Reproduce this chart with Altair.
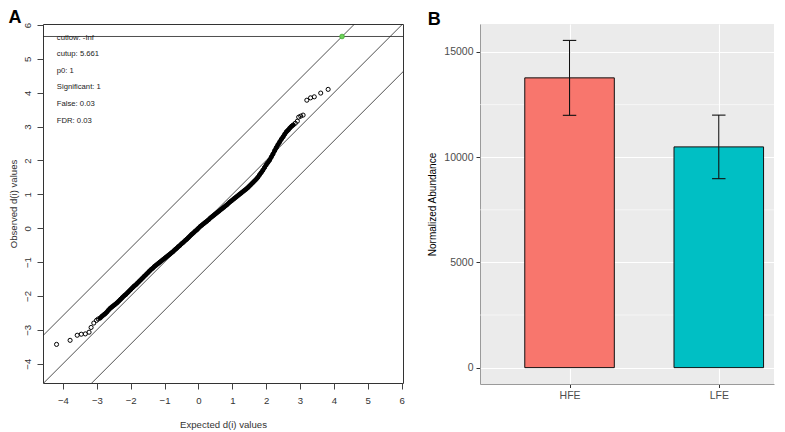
import altair as alt
import pandas as pd

# ---------------- Panel A data (SAM plot) ----------------
# dense central part of the d(i) cloud
band_expected = [
    -2.90, -2.85, -2.80, -2.75, -2.70, -2.65, -2.60, -2.55, -2.50, -2.45,
    -2.40, -2.35, -2.30, -2.25, -2.20, -2.15, -2.10, -2.05, -2.00, -1.95,
    -1.90, -1.85, -1.80, -1.75, -1.70, -1.65, -1.60, -1.55, -1.50, -1.45,
    -1.40, -1.35, -1.30, -1.25, -1.20, -1.15, -1.10, -1.05, -1.00, -0.95,
    -0.90, -0.85, -0.80, -0.75, -0.70, -0.65, -0.60, -0.55, -0.50, -0.45,
    -0.40, -0.35, -0.30, -0.25, -0.20, -0.15, -0.10, -0.05, 0.00, 0.05,
    0.10, 0.15, 0.20, 0.25, 0.30, 0.35, 0.40, 0.45, 0.50, 0.55,
    0.60, 0.65, 0.70, 0.75, 0.80, 0.85, 0.90, 0.95, 1.00, 1.05,
    1.10, 1.15, 1.20, 1.25, 1.30, 1.35, 1.40, 1.45, 1.50, 1.55,
    1.60, 1.65, 1.70, 1.75, 1.80, 1.85, 1.90, 1.95, 2.00, 2.05,
    2.10, 2.15, 2.20, 2.25, 2.30, 2.35, 2.40, 2.45, 2.50, 2.55,
    2.60, 2.65, 2.70, 2.75, 2.80,
]
band_observed = [
    -2.65, -2.60, -2.56, -2.52, -2.47, -2.41, -2.36, -2.32, -2.28, -2.24,
    -2.20, -2.15, -2.10, -2.05, -2.00, -1.96, -1.91, -1.86, -1.81, -1.76,
    -1.71, -1.67, -1.62, -1.57, -1.52, -1.47, -1.42, -1.37, -1.32, -1.27,
    -1.22, -1.18, -1.13, -1.09, -1.05, -1.01, -0.97, -0.93, -0.89, -0.85,
    -0.81, -0.77, -0.73, -0.69, -0.64, -0.60, -0.55, -0.51, -0.46, -0.42,
    -0.37, -0.33, -0.28, -0.23, -0.18, -0.14, -0.09, -0.05, 0.00, 0.05,
    0.09, 0.13, 0.17, 0.21, 0.25, 0.30, 0.34, 0.38, 0.42, 0.46,
    0.50, 0.54, 0.58, 0.62, 0.66, 0.70, 0.75, 0.79, 0.83, 0.87,
    0.91, 0.95, 0.99, 1.03, 1.07, 1.11, 1.15, 1.19, 1.24, 1.29,
    1.34, 1.39, 1.44, 1.50, 1.57, 1.64, 1.71, 1.79, 1.87, 1.94,
    2.01, 2.10, 2.19, 2.29, 2.38, 2.47, 2.55, 2.63, 2.70, 2.78,
    2.85, 2.90, 2.96, 3.01, 3.05,
]
# sparse tails of the cloud
tail_expected = [-4.19, -3.79, -3.58, -3.46, -3.34, -3.23, -3.17, -3.09,
                 -3.01, -2.96, 2.86, 2.92, 2.96, 3.02, 3.09, 3.20, 3.31,
                 3.42, 3.61, 3.83]
tail_observed = [-3.43, -3.31, -3.16, -3.13, -3.12, -3.07, -2.93, -2.80,
                 -2.72, -2.68, 3.10, 3.16, 3.28, 3.31, 3.34, 3.78, 3.85,
                 3.88, 3.99, 4.10]
sig_expected = [4.24]
sig_observed = [5.661]
delta_offsets = [0.0, 1.42, -1.42]
cutup = 5.661
stats_lines = ["cutlow: -Inf", "cutup: 5.661", "p0: 1",
               "Significant: 1", "False: 0.03", "FDR: 0.03"]
ticks_a = [-4, -3, -2, -1, 0, 1, 2, 3, 4, 5, 6]

# ---------------- Panel B data (bar chart) ----------------
groups = ["HFE", "LFE"]
abundance = [13770, 10490]
abundance_err = [1780, 1510]
bar_colors = ["#F8766D", "#00BFC4"]
ticks_b_major = [0, 5000, 10000, 15000]
ticks_b_minor = [2500, 7500, 12500]

FONT = "Liberation Sans"

# ---------------- Panel A ----------------
xs_a = alt.Scale(domain=[-4.59, 6.04], nice=False, zero=False)
ys_a = alt.Scale(domain=[-4.57, 6.03], nice=False, zero=False)

axis_xa = alt.Axis(values=ticks_a, title="Expected d(i) values", grid=False,
                   domain=False, tickSize=6, tickColor="#444",
                   labelFontSize=9.6, titleFontSize=9.6, labelPadding=6,
                   titlePadding=15, labelColor="#333", titleColor="#333",
                   titleFontWeight="normal", labelFlush=False)
axis_ya = alt.Axis(values=ticks_a, title="Observed d(i) values", grid=False,
                   domain=False, tickSize=6, tickColor="#444",
                   labelFontSize=9.6, titleFontSize=9.6, labelPadding=5,
                   titlePadding=3.5, labelColor="#333", titleColor="#333",
                   titleFontWeight="normal", labelAngle=270,
                   labelAlign="center", labelBaseline="bottom",
                   labelFlush=False)

band = pd.DataFrame({"x": band_expected, "y": band_observed})
pts = pd.DataFrame({"x": band_expected + tail_expected,
                    "y": band_observed + tail_observed})
sig = pd.DataFrame({"x": sig_expected, "y": sig_observed})
lines_df = pd.DataFrame({"b": delta_offsets})
lines_df["x"] = -6.0
lines_df["xe"] = 8.0
lines_df["y"] = lines_df["x"] + lines_df["b"]
lines_df["ye"] = lines_df["xe"] + lines_df["b"]
hline_df = pd.DataFrame({"y": [cutup]})

X_A = alt.X("x:Q", scale=xs_a, axis=axis_xa)
Y_A = alt.Y("y:Q", scale=ys_a, axis=axis_ya)

diag_a = alt.Chart(lines_df).mark_rule(color="#222", strokeWidth=0.8, clip=True).encode(
    x=X_A, x2="xe:Q", y=Y_A, y2="ye:Q",
)
hline_a = alt.Chart(hline_df).mark_rule(color="#222", strokeWidth=0.8).encode(y=Y_A)
band_a = alt.Chart(band).mark_line(color="black", strokeWidth=4.2,
                                   strokeCap="round", interpolate="monotone").encode(
    x=X_A, y=Y_A, order="x:Q",
)
points_a = alt.Chart(pts).mark_point(
    shape="circle", filled=False, color="black", size=17, strokeWidth=1.0, opacity=1
).encode(x=X_A, y=Y_A)
sig_a = alt.Chart(sig).mark_point(
    shape="circle", filled=True, fill="#6FD35A", stroke="#3DAA30",
    size=22, strokeWidth=0.8, opacity=1
).encode(x=X_A, y=Y_A)
text_a = alt.Chart(pd.DataFrame({"k": [0]})).mark_text(
    text=stats_lines, align="left", baseline="alphabetic", fontSize=7.7,
    lineHeight=16.6, color="#222", font=FONT
).encode(x=alt.value(13.8), y=alt.value(15.5))

panel_a = alt.layer(diag_a, hline_a, band_a, points_a, sig_a, text_a).properties(
    width=360, height=359,
    title=alt.TitleParams("A", anchor="start", fontSize=18, fontWeight="bold",
                          font=FONT, color="black", offset=-5),
    view=alt.ViewBackground(stroke="#333", strokeWidth=1),
)

# ---------------- Panel B ----------------
xs_b = alt.Scale(domain=[0.4, 2.37], nice=False, zero=False)
ys_b = alt.Scale(domain=[-778, 16330], nice=False, zero=False)

label_expr = "[" + ",".join("'%s'" % g for g in groups) + "][datum.value-1]"
axis_xb = alt.Axis(values=[1, 2], labelExpr=label_expr, title=None,
                   grid=True, gridColor="white", gridWidth=1.1,
                   domain=True, domainColor="#9a9a9a", tickSize=3.5,
                   tickColor="#333", labelColor="#4D4D4D", labelFontSize=10.5,
                   labelPadding=3, labelFlush=False)
axis_yb = alt.Axis(values=ticks_b_major, format="d", title="Normalized Abundance",
                   grid=True, gridColor="white", gridWidth=1.1,
                   domain=True, domainColor="#9a9a9a", tickSize=4,
                   tickColor="#333", labelColor="#4D4D4D", labelFontSize=10.5,
                   labelPadding=3, titleFontSize=10, titleColor="black",
                   titleFontWeight="normal", titlePadding=6, labelFlush=False)

bdf = pd.DataFrame({"group": groups, "mean": abundance, "err": abundance_err})
bdf["pos"] = range(1, len(groups) + 1)
bdf["left"] = bdf["pos"] - 0.3
bdf["right"] = bdf["pos"] + 0.3
bdf["capl"] = bdf["pos"] - 0.045
bdf["capr"] = bdf["pos"] + 0.045
bdf["lo"] = bdf["mean"] - bdf["err"]
bdf["hi"] = bdf["mean"] + bdf["err"]
bdf["zero"] = 0
minor_df = pd.DataFrame({"mean": ticks_b_minor})

minor_b = alt.Chart(minor_df).mark_rule(color="white", strokeWidth=0.55).encode(
    y=alt.Y("mean:Q", scale=ys_b, axis=axis_yb),
)
bars_b = alt.Chart(bdf).mark_rect(stroke="#111", strokeWidth=1).encode(
    x=alt.X("left:Q", scale=xs_b, axis=axis_xb), x2="right:Q",
    y=alt.Y("mean:Q", scale=ys_b, axis=axis_yb), y2="zero:Q",
    color=alt.Color("group:N", scale=alt.Scale(domain=groups, range=bar_colors),
                    legend=None),
)
err_b = alt.Chart(bdf).mark_rule(color="#111", strokeWidth=1.1).encode(
    x=alt.X("pos:Q", scale=xs_b, axis=axis_xb),
    y=alt.Y("lo:Q", scale=ys_b, axis=axis_yb), y2="hi:Q",
)
cap_hi = alt.Chart(bdf).mark_rule(color="#111", strokeWidth=1.1).encode(
    x=alt.X("capl:Q", scale=xs_b, axis=axis_xb), x2="capr:Q",
    y=alt.Y("hi:Q", scale=ys_b, axis=axis_yb),
)
cap_lo = alt.Chart(bdf).mark_rule(color="#111", strokeWidth=1.1).encode(
    x=alt.X("capl:Q", scale=xs_b, axis=axis_xb), x2="capr:Q",
    y=alt.Y("lo:Q", scale=ys_b, axis=axis_yb),
)

panel_b = alt.layer(minor_b, bars_b, err_b, cap_hi, cap_lo).properties(
    width=294, height=360,
    title=alt.TitleParams("B", anchor="start", fontSize=18, fontWeight="bold",
                          font=FONT, color="black", offset=-5),
    view=alt.ViewBackground(fill="#EBEBEB", stroke="transparent", strokeWidth=0),
)

chart = alt.hconcat(panel_a, panel_b, spacing=22).properties(
    padding=0, background="white"
).configure(font=FONT).configure_axis(labelFont=FONT, titleFont=FONT)

chart.save("out.html", embed_options={"renderer": "svg", "actions": False})
